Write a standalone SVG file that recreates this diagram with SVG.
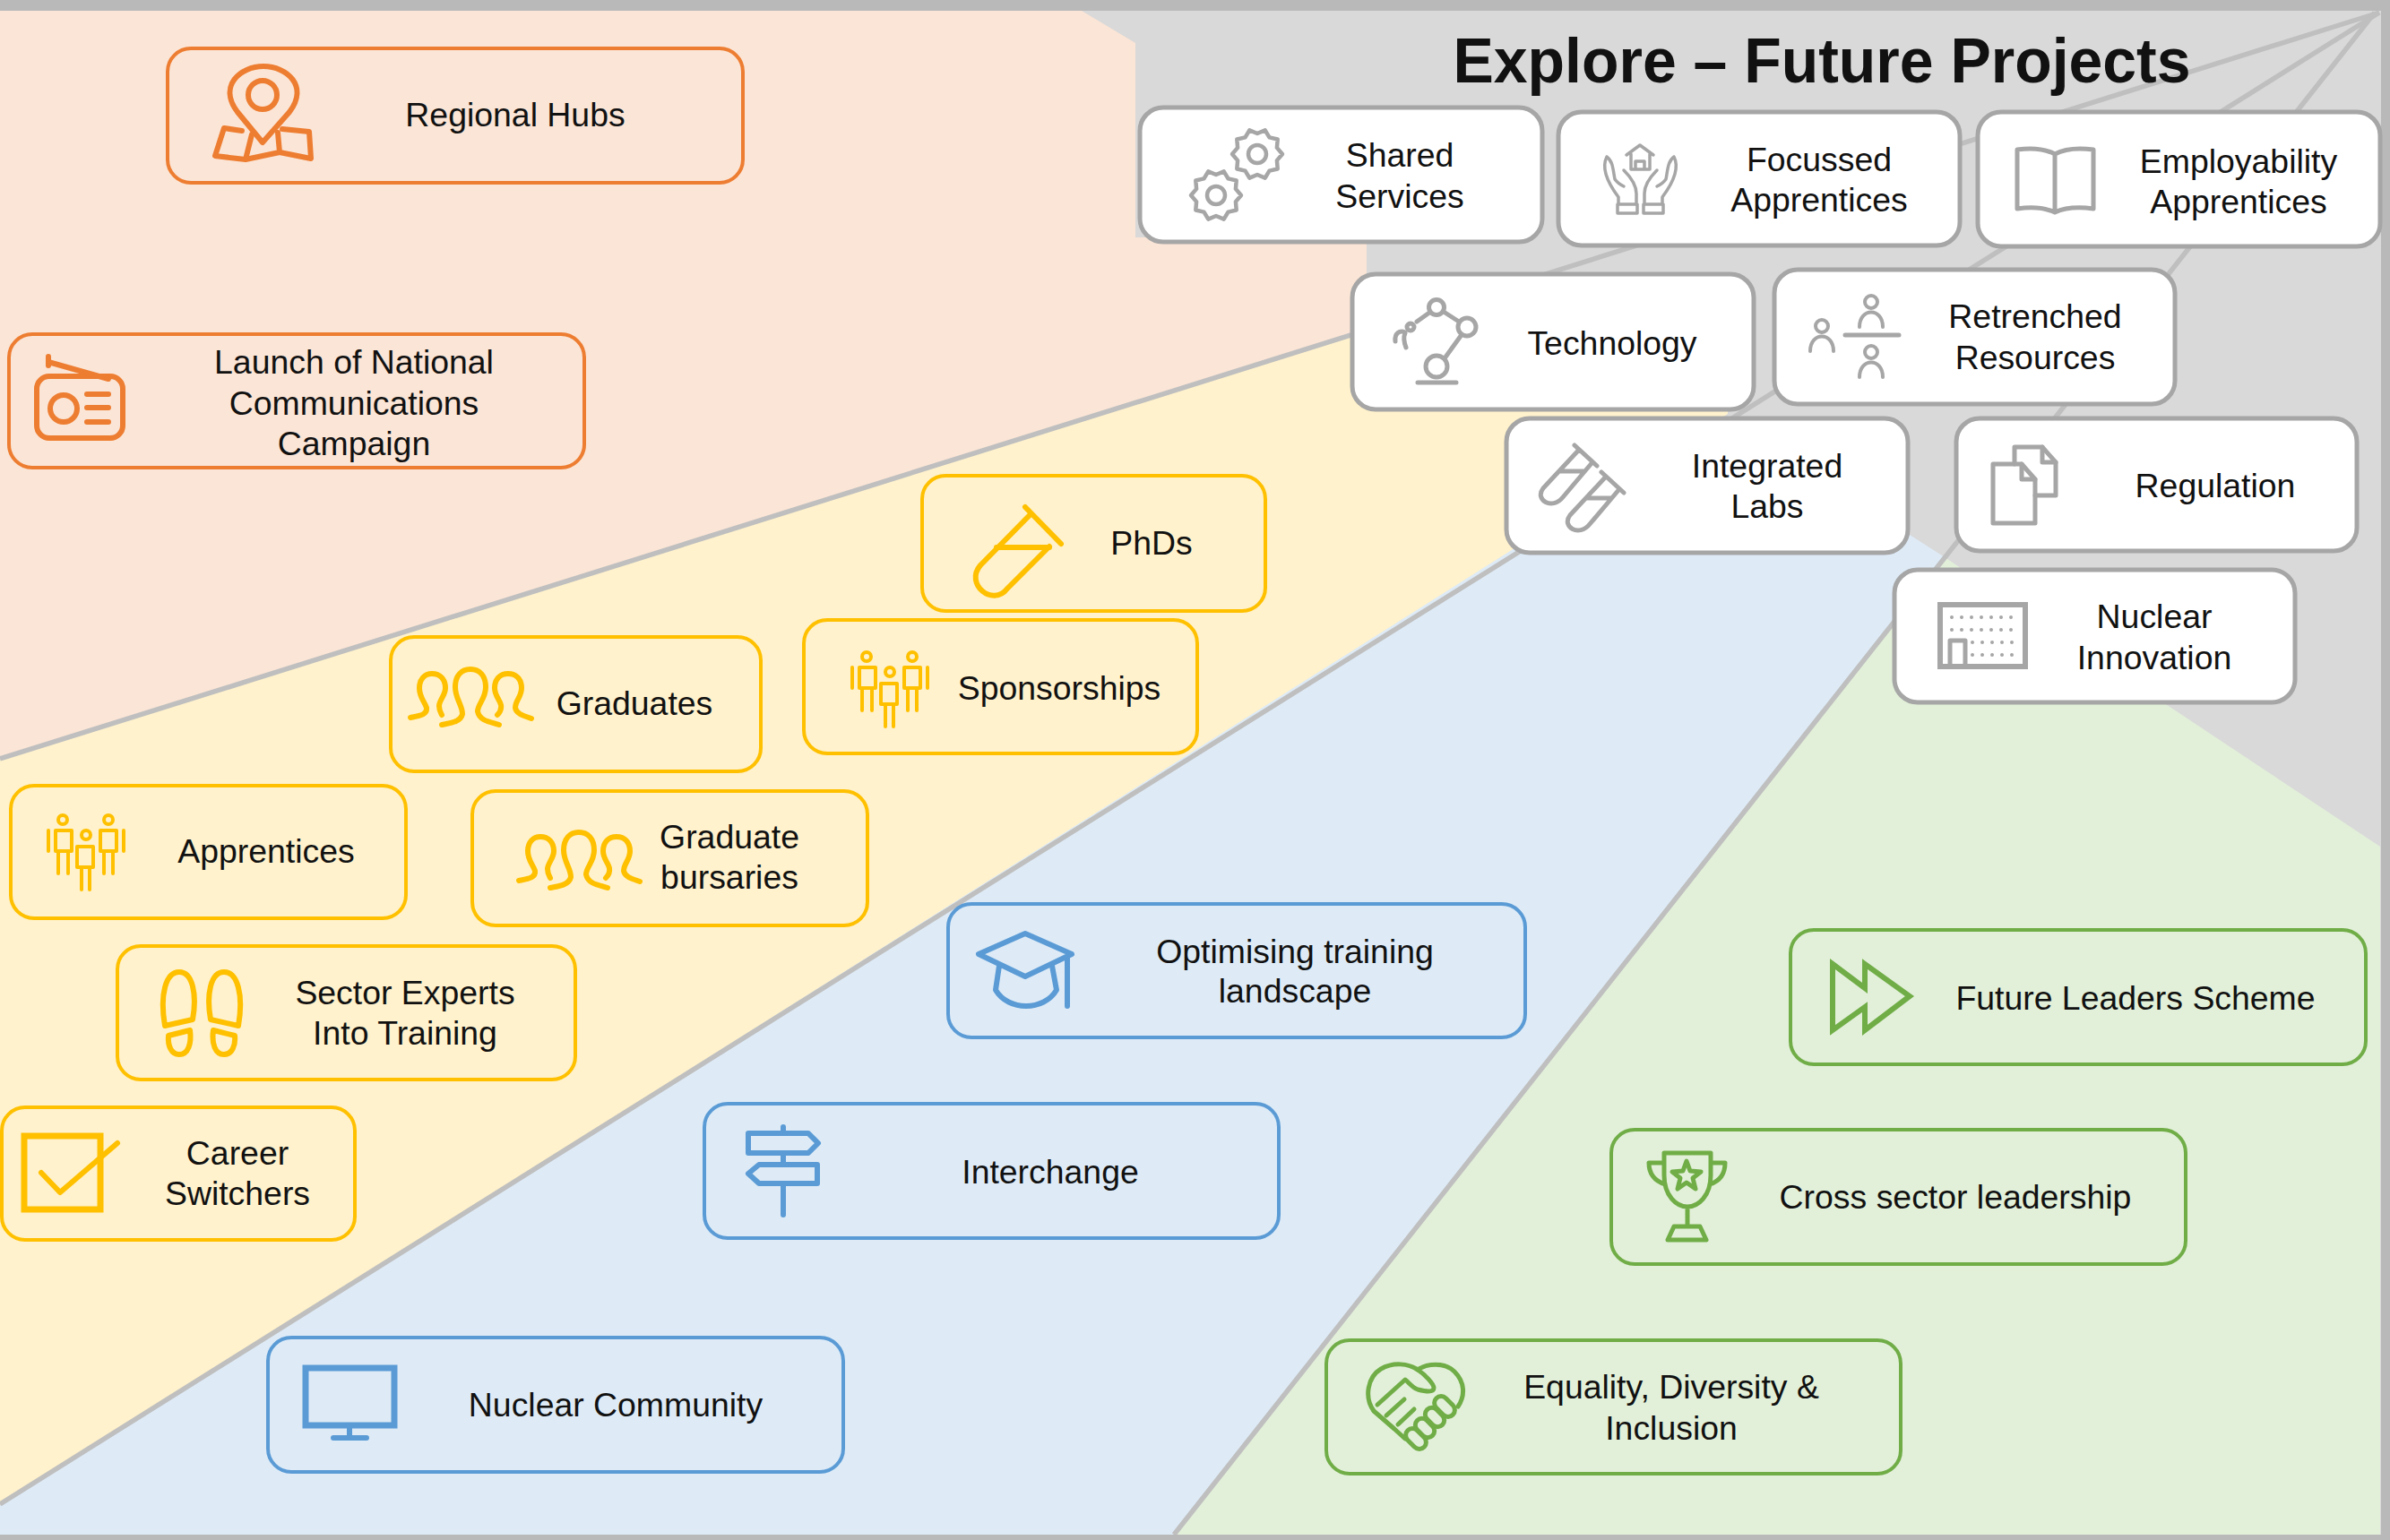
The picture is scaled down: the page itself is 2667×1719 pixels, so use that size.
<svg xmlns="http://www.w3.org/2000/svg" width="2667" height="1719" viewBox="0 0 2667 1719">
<style>
text{font-family:"Liberation Sans",Arial,sans-serif;font-size:37.4px;fill:#111;text-anchor:middle}
.title{font-size:71px;font-weight:700}
.box{stroke-width:4}
.o .box{fill:#fbe5d6;stroke:#ed7d31}
.y .box{fill:#fff2cc;stroke:#ffc000}
.b .box{fill:#deebf7;stroke:#5b9bd5}
.n .box{fill:#e2f0d9;stroke:#70ad47}
.g .box{fill:#fff;stroke:#a6a6a6;stroke-width:5}
.i{fill:none;stroke-width:6;stroke-linecap:round;stroke-linejoin:round}
.o .i{stroke:#ed7d31}.y .i{stroke:#ffc000}.b .i{stroke:#5b9bd5}.n .i{stroke:#70ad47}.g .i{stroke:#a6a6a6}
.div{stroke:#bfbfbf;stroke-width:5.5;fill:none}
</style>
<defs>
<g id="people">
<circle cx="70" cy="915" r="5"/><path d="M62 927H80V950H62ZM65 950V975M76 950V975M54 927V950"/>
<circle cx="96" cy="932" r="5"/><path d="M86 945H104V968H86ZM91 968V993M100 968V993"/>
<circle cx="121" cy="915" r="5"/><path d="M112 927H130V950H112ZM116 950V975M126 950V975M138 927V950"/>
</g>
<g id="grads">
<path d="M458 801C468 799 477 798 476 790C473 782 468 778 468 768C468 758 474 752 482 752C491 752 497 758 497 768C497 776 490 782 490 788C490 793 492 796 493 798"/>
<path d="M493 809C502 807 514 806 516 797C516 787 508 780 508 767C508 754 515 747 525 747C535 747 542 754 542 767C542 780 533 786 533 794C535 805 548 806 557 809"/>
<path d="M555 798C557 796 560 793 559 787C558 781 552 777 552 768C552 758 558 752 567 752C576 752 582 758 582 768C582 778 575 782 575 790C576 797 585 799 593 802"/>
</g>
<g id="gear"><circle r="10"/><path d="M28 0L21.9 7.1L22.7 16.5L13.5 18.6L8.7 26.6L0 23L-8.7 26.6L-13.5 18.6L-22.7 16.5L-21.9 7.1L-28 0L-21.9 -7.1L-22.7 -16.5L-13.5 -18.6L-8.7 -26.6L0 -23L8.7 -26.6L13.5 -18.6L22.7 -16.5L21.9 -7.1Z"/></g>
<g id="tube"><path d="M1757 497L1782 520M1762 502L1722 545C1712 558 1732 570 1744 555L1777 516M1740 526H1768"/></g>
<g id="person"><circle r="7"/><path d="M-13 28C-13 6 13 6 13 28"/></g>
<g id="hand"><path d="M1793 175C1788 185 1791 200 1806 220V228M1793 175C1800 180 1800 190 1802 200C1804 203 1808 206 1812 208M1812 190C1820 198 1826 206 1826 216V228M1805 228H1827V238H1805Z"/></g>
</defs>

<rect id="background" width="2667" height="1719" fill="#d9d9d9"/>
<g id="bands">
<polygon fill="#deebf7" points="0,1680 1061,1004 1690,610 2131,597 2170,622 1310,1713 0,1713"/>
<polygon fill="#e2f0d9" points="1310,1713 2170,622 2656,945 2656,1713"/>
<polygon fill="#fff2cc" points="0,847 1509,376 1928,376 1928,462 1690,612 0,1680"/>
<polygon fill="#fbe5d6" points="0,12 1207,12 1267,48 1267,265 1525,265 1525,370 0,847"/>
</g>
<g id="connectors">
<path class="div" d="M0 847L2655 14"/>
<path class="div" d="M0 1679L2655 14"/>
<path class="div" d="M1310 1713L2650 14"/>
</g>
<g id="frame" fill="#b9b9b9">
<rect width="2667" height="12"/><rect y="1713" width="2667" height="6"/><rect x="2657" width="10" height="1719"/>
</g>
<text class="title" x="2033" y="92" textLength="823" lengthAdjust="spacingAndGlyphs">Explore – Future Projects</text>

<g id="regional-hubs" class="o"><rect class="box" x="187" y="54" width="642" height="150" rx="26"/>
<g class="i"><path d="M293 159L265 125C243 96 268 74 294 74C320 74 345 96 323 125Z"/><circle cx="293" cy="106" r="16"/><path d="M270 146L250 143L240 174L274 178L312 170L347 177L345 147L315 144M274 178L281 150M312 170L310 148"/></g>
<text x="575" y="141">Regional Hubs</text></g>

<g id="national-communications" class="o"><rect class="box" x="10" y="373" width="642" height="149" rx="26"/>
<g class="i"><rect x="41" y="420" width="96" height="69" rx="14"/><circle cx="71" cy="456" r="15"/><path d="M97 440H121M97 455H121M97 471H121M54 404L121 423M54 398V408"/></g>
<text x="395" y="417">Launch of National</text><text x="395" y="463">Communications</text><text x="395" y="508">Campaign</text></g>

<g id="phds" class="y"><rect class="box" x="1029" y="531" width="383" height="151" rx="26"/>
<g class="i"><path d="M1144 566L1184 607M1149 575L1094 631C1076 652 1108 678 1124 657L1171 610M1112 611H1171"/></g>
<text x="1285" y="619">PhDs</text></g>

<g id="graduates" class="y"><rect class="box" x="436" y="711" width="413" height="150" rx="26"/>
<use href="#grads" class="i"/>
<text x="708" y="798">Graduates</text></g>

<g id="sponsorships" class="y"><rect class="box" x="897" y="692" width="439" height="149" rx="26"/>
<use href="#people" class="i" style="stroke-width:4" transform="translate(897 -182)"/>
<text x="1182" y="781">Sponsorships</text></g>

<g id="apprentices" class="y"><rect class="box" x="12" y="877" width="441" height="148" rx="26"/>
<use href="#people" class="i" style="stroke-width:4"/>
<text x="297" y="963">Apprentices</text></g>

<g id="graduate-bursaries" class="y"><rect class="box" x="527" y="883" width="441" height="150" rx="26"/>
<use href="#grads" class="i" transform="translate(121 182)"/>
<text x="814" y="947">Graduate</text><text x="814" y="992">bursaries</text></g>

<g id="sector-experts" class="y"><rect class="box" x="131" y="1056" width="511" height="149" rx="26"/>
<g class="i"><path d="M184 1145C178 1110 185 1085 200 1085C215 1085 220 1110 215 1138Z"/><path d="M188 1156L212 1150C214 1165 210 1177 200 1177C191 1177 187 1167 188 1156Z"/><path d="M266 1145C272 1110 265 1085 250 1085C235 1085 230 1110 235 1138Z"/><path d="M262 1156L238 1150C236 1165 240 1177 250 1177C259 1177 263 1167 262 1156Z"/></g>
<text x="452" y="1121">Sector Experts</text><text x="452" y="1166">Into Training</text></g>

<g id="career-switchers" class="y"><rect class="box" x="2" y="1236" width="394" height="148" rx="26"/>
<g class="i"><rect x="27" y="1268" width="85" height="82" style="stroke-width:7;stroke-linecap:butt;stroke-linejoin:miter"/><path d="M46 1309L67 1331L131 1276"/></g>
<text x="265" y="1300">Career</text><text x="265" y="1345">Switchers</text></g>

<g id="optimising-training" class="b"><rect class="box" x="1058" y="1009" width="644" height="149" rx="26"/>
<g class="i"><path d="M1144 1042L1092 1065L1144 1090L1196 1065ZM1191 1067V1123M1115 1078L1111 1105C1125 1129 1165 1129 1179 1105L1174 1078"/></g>
<text x="1445" y="1075">Optimising training</text><text x="1445" y="1119">landscape</text></g>

<g id="interchange" class="b"><rect class="box" x="786" y="1232" width="641" height="150" rx="26"/>
<g class="i"><path d="M835 1265H902L913 1276L902 1287H835ZM912 1300H847L835 1310L847 1321H912ZM874 1258V1265M874 1287V1300M874 1321V1356"/></g>
<text x="1172" y="1321">Interchange</text></g>

<g id="nuclear-community" class="b"><rect class="box" x="299" y="1493" width="642" height="150" rx="26"/>
<g class="i"><path style="stroke-linecap:butt;stroke-linejoin:miter;stroke-width:7" d="M341 1527H440V1591H341Z"/><path d="M390 1591V1605M372 1605H409"/></g>
<text x="687" y="1581">Nuclear Community</text></g>

<g id="future-leaders" class="n"><rect class="box" x="1998" y="1038" width="642" height="150" rx="26"/>
<g class="i"><path d="M2045 1076L2081 1103V1076L2131 1112L2081 1150V1124L2045 1150Z" style="stroke-linejoin:miter"/></g>
<text x="2383" y="1127">Future Leaders Scheme</text></g>

<g id="cross-sector" class="n"><rect class="box" x="1798" y="1261" width="641" height="150" rx="26"/>
<g class="i" style="stroke-width:5"><path d="M1857 1287H1909V1312C1909 1335 1895 1347 1883 1347C1871 1347 1857 1335 1857 1312ZM1857 1298H1840C1840 1310 1846 1318 1858 1322M1909 1298H1925C1925 1310 1920 1318 1908 1322M1883 1347V1368M1868 1369H1897L1904 1384H1861Z"/><path d="M1882 1296L1886 1307L1898 1308L1889 1315L1892 1327L1882 1320L1872 1327L1875 1315L1866 1308L1878 1307Z"/></g>
<text x="2182" y="1349">Cross sector leadership</text></g>

<g id="equality-diversity" class="n"><rect class="box" x="1480" y="1496" width="641" height="149" rx="26"/>
<g class="i" style="stroke-width:5"><path d="M1533 1575C1522 1560 1526 1537 1541 1528C1555 1520 1572 1522 1582 1529C1592 1522 1612 1520 1623 1531C1635 1543 1635 1558 1627 1570"/>
<path d="M1582 1529C1590 1534 1600 1545 1600 1549C1600 1555 1590 1553 1582 1551C1576 1549 1572 1543 1568 1540L1537 1568"/>
<path d="M1533 1575L1556 1595L1568 1606M1567 1562L1547 1580M1578 1573L1560 1590"/>
<g id="fingers"><rect x="-13" y="-7.500" width="26" height="15" rx="7.500" transform="translate(1580 1606) rotate(45)"/><rect x="-12" y="-7.500" width="24" height="15" rx="7.500" transform="translate(1590 1594) rotate(45)"/><rect x="-12" y="-7.500" width="24" height="15" rx="7.500" transform="translate(1601 1582) rotate(45)"/><rect x="-13" y="-7.500" width="26" height="15" rx="7.500" transform="translate(1612 1570) rotate(45)"/></g></g>
<text x="1865" y="1561">Equality, Diversity &amp;</text><text x="1865" y="1607">Inclusion</text></g>

<g id="shared-services" class="g"><rect class="box" x="1272" y="120" width="449" height="150" rx="26"/>
<g class="i" style="stroke-width:4.500"><use href="#gear" transform="translate(1403 172)"/><use href="#gear" transform="translate(1357 218)"/></g>
<text x="1562" y="186">Shared</text><text x="1562" y="232">Services</text></g>

<g id="focussed-apprentices" class="g"><rect class="box" x="1739" y="125" width="448" height="149" rx="26"/>
<g class="i" style="stroke-width:3.500"><path d="M1815 173L1830 162L1845 173M1820 172V189H1841V172M1825 189V180H1835V189"/>
<use href="#hand"/><use href="#hand" transform="matrix(-1 0 0 1 3661 0)"/></g>
<text x="2030" y="191">Focussed</text><text x="2030" y="236">Apprentices</text></g>

<g id="employability-apprentices" class="g"><rect class="box" x="2207" y="125" width="449" height="150" rx="26"/>
<g class="i" style="stroke-width:5"><path d="M2293 172C2280 165 2265 165 2251 167V233C2265 231 2280 231 2293 237V172C2306 165 2321 165 2336 167V233C2321 231 2306 231 2293 237"/></g>
<text x="2498" y="193">Employability</text><text x="2498" y="238">Apprentices</text></g>

<g id="technology" class="g"><rect class="box" x="1509" y="306" width="448" height="151" rx="26"/>
<g class="i" style="stroke-width:5"><circle cx="1603" cy="409" r="12"/><circle cx="1637" cy="365" r="10"/><circle cx="1603" cy="343" r="8.500"/><circle cx="1574" cy="365" r="4"/><path d="M1582 427H1625M1612 400L1630 375M1628 359L1611 348M1595 349L1581 359M1557 381C1556 372 1562 368 1568 371M1569 388C1566 380 1566 376 1568 372"/></g>
<text x="1799" y="396">Technology</text></g>

<g id="retrenched-resources" class="g"><rect class="box" x="1980" y="301" width="447" height="150" rx="26"/>
<g class="i" style="stroke-width:4"><use href="#person" transform="translate(2088 337)"/><use href="#person" transform="translate(2088 393)"/><use href="#person" transform="translate(2033 364)"/><path d="M2059 374H2119" style="stroke-width:5"/></g>
<text x="2271" y="366">Retrenched</text><text x="2271" y="412">Resources</text></g>

<g id="integrated-labs" class="g"><rect class="box" x="1681" y="467" width="448" height="150" rx="26"/>
<g class="i" style="stroke-width:5"><use href="#tube"/><use href="#tube" transform="translate(30 30)"/></g>
<text x="1972" y="533">Integrated</text><text x="1972" y="578">Labs</text></g>

<g id="regulation" class="g"><rect class="box" x="2183" y="467" width="447" height="148" rx="26"/>
<g class="i" style="stroke-width:5"><path d="M2248 518V499H2279L2294 516V553H2271"/><path d="M2279 499V516H2294"/><path d="M2224 518H2256L2271 535V584H2224Z"/><path d="M2256 518V535H2271"/></g>
<text x="2472" y="555">Regulation</text></g>

<g id="nuclear-innovation" class="g"><rect class="box" x="2114" y="636" width="447" height="148" rx="26"/>
<g class="i"><rect x="2165" y="675" width="95" height="69" style="stroke-linecap:butt;stroke-linejoin:miter"/><path d="M2176 744V715H2193V744" style="stroke-width:5"/><path d="M2178 689H2252M2178 703H2252M2201 717H2252M2201 731H2252" style="stroke-width:4;stroke-dasharray:0 11"/></g>
<text x="2404" y="701">Nuclear</text><text x="2404" y="747">Innovation</text></g>
</svg>
